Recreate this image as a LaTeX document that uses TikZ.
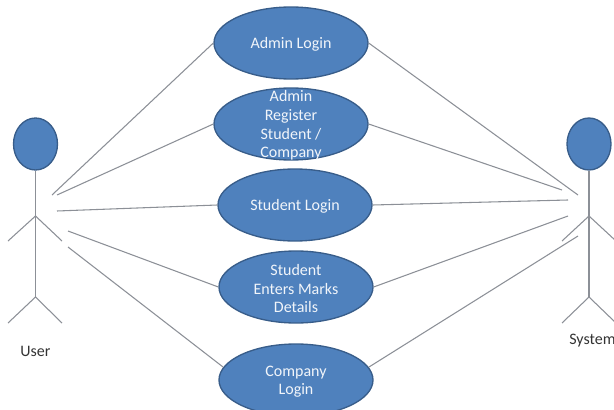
\documentclass[tikz,border=0pt]{standalone}
\usepackage{fontspec}
\setmainfont{Carlito}
\usetikzlibrary{shapes.geometric}
\definecolor{casefill}{HTML}{4F81BD}
\definecolor{caseedge}{HTML}{385D8A}
\definecolor{wire}{HTML}{8C9097}
\tikzset{
	usecase/.style={ellipse,draw=caseedge,fill=casefill,line width=1pt,inner sep=0pt,minimum width=115.5pt,minimum height=54pt},
	casetext/.style={text=white!92!casefill,align=center,font=\fontsize{12pt}{14pt}\selectfont,inner sep=0pt,yshift=-1.2pt},
	acthead/.style={ellipse,draw=caseedge,fill=casefill,line width=1pt,inner sep=0pt,minimum width=33pt,minimum height=39pt},
	wireline/.style={draw=wire,line width=0.8pt},
	actname/.style={text=black!80,font=\fontsize{12pt}{14pt}\selectfont,inner sep=0pt}
}
\begin{document}
\begin{tikzpicture}[x=0.75pt,y=-0.75pt]
	\useasboundingbox (0,0) rectangle (614,410);
	\clip (0,0) rectangle (614,410);
	% use cases
	\node[usecase] (adminlogin) at (291,43) {};
	\node[casetext] (adminlogintext) at (adminlogin) {Admin Login};
	\node[usecase] (adminreg) at (291,124) {};
	\node[casetext] (adminregtext) at (adminreg) {Admin\\Register\\Student /\\Company};
	\node[usecase] (studlogin) at (295,205) {};
	\node[casetext] (studlogintext) at (studlogin) {Student Login};
	\node[usecase] (studmarks) at (296,287) {};
	\node[casetext] (studmarkstext) at (studmarks) {Student\\Enters Marks\\Details};
	\node[usecase] (complogin) at (296,380) {};
	\node[casetext] (complogintext) at (complogin) {Company\\Login};
	% user
	\node[acthead] (userhead) at (35.5,144) {};
	\coordinate (userneck) at (35.5,216);
	\coordinate (userhip) at (35.5,297);
	\coordinate (userlarm) at (8,241);
	\coordinate (userrarm) at (62,241);
	\coordinate (userlleg) at (8,323);
	\coordinate (userrleg) at (62,323);
	\draw[wireline] (userhead) -- (userhip);
	\draw[wireline] (userlarm) -- (userneck) -- (userrarm);
	\draw[wireline] (userlleg) -- (userhip) -- (userrleg);
	\node[actname] (username) at (35.5,351) {User};
	% system
	\node[acthead] (syshead) at (589,144) {};
	\coordinate (sysneck) at (589,216);
	\coordinate (syship) at (589,297);
	\coordinate (syslarm) at (562,241);
	\coordinate (sysrarm) at (616,241);
	\coordinate (syslleg) at (562,323);
	\coordinate (sysrleg) at (616,323);
	\draw[wireline] (syshead) -- (syship);
	\draw[wireline] (syslarm) -- (sysneck) -- (sysrarm);
	\draw[wireline] (syslleg) -- (syship) -- (sysrleg);
	\node[actname,anchor=west] (sysname) at (569,341) {System};
	% free ends, user side
	\coordinate (ua) at (52,195);
	\coordinate (ub) at (57,195);
	\coordinate (uc) at (57,211);
	\coordinate (ud) at (68,231);
	\coordinate (ue) at (68,247);
	\draw[wireline] (ua) -- (adminlogin.west);
	\draw[wireline] (ub) -- (adminreg.west);
	\draw[wireline] (uc) -- (studlogin.west);
	\draw[wireline] (ud) -- (studmarks.west);
	\draw[wireline] (ue) -- (complogin.170);
	% free ends, system side
	\coordinate (sa) at (578,195);
	\coordinate (sb) at (562,190);
	\coordinate (sc) at (568,200);
	\coordinate (sd) at (568,216);
	\coordinate (se) at (578,236);
	\draw[wireline] (sa) -- (adminlogin.east);
	\draw[wireline] (sb) -- (adminreg.east);
	\draw[wireline] (sc) -- (studlogin.east);
	\draw[wireline] (sd) -- (studmarks.east);
	\draw[wireline] (se) -- (complogin.10);
\end{tikzpicture}
\end{document}
